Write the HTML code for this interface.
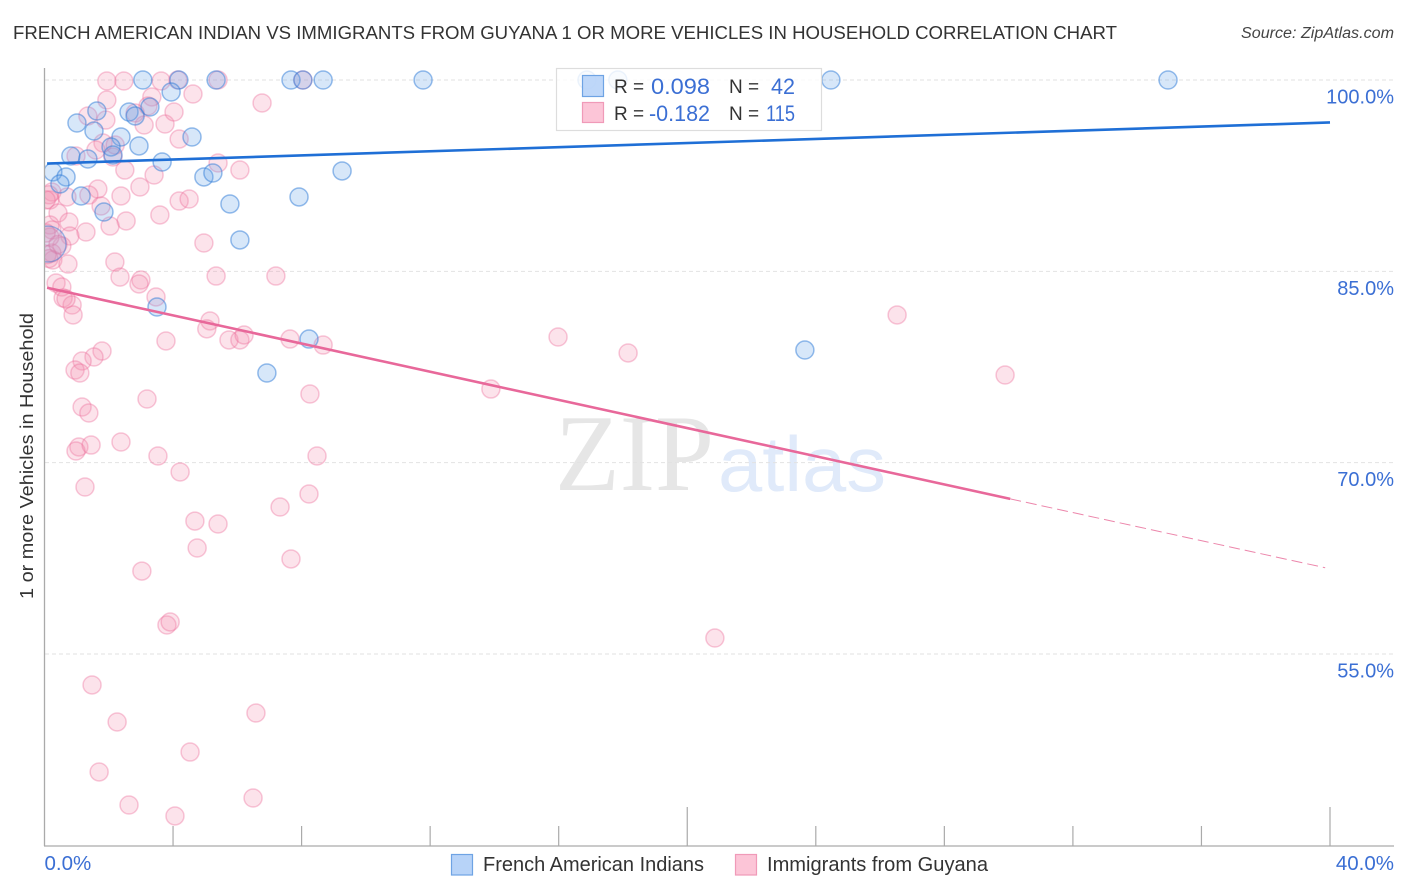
<!DOCTYPE html>
<html lang="en">
<head>
<meta charset="utf-8">
<title>French American Indian vs Immigrants from Guyana correlation chart</title>
<style>
html,body{margin:0;padding:0;background:#fff;width:1406px;height:892px;overflow:hidden}
svg{display:block}
text{font-family:"Liberation Sans",sans-serif}
</style>
</head>
<body>
<svg id="chart" width="1406" height="892" viewBox="0 0 1406 892" xmlns="http://www.w3.org/2000/svg">
  <defs>
    <clipPath id="plot-clip"><rect x="45" y="60" width="1350" height="786"/></clipPath>
  </defs>
  <text x="13" y="39" font-size="18.5" fill="#333" textLength="1104" lengthAdjust="spacingAndGlyphs">FRENCH AMERICAN INDIAN VS IMMIGRANTS FROM GUYANA 1 OR MORE VEHICLES IN HOUSEHOLD CORRELATION CHART</text>
  <text x="1241" y="38" font-size="15.5" font-style="italic" fill="#444" textLength="153" lengthAdjust="spacingAndGlyphs">Source: ZipAtlas.com</text>

  <g id="watermark">
    <text x="555" y="490" font-size="109" fill="#e6e6e6" style="font-family:'Liberation Serif',serif" textLength="159" lengthAdjust="spacingAndGlyphs">ZIP</text>
    <text x="718" y="491" font-size="78" fill="#e0eafa" textLength="168" lengthAdjust="spacingAndGlyphs">atlas</text>
  </g>

  <g id="grid"></g>
  <g id="y-labels"></g>

  <g id="points" clip-path="url(#plot-clip)"></g>
  <g id="trends"></g>

  <g id="axes">
    <line x1="44.5" y1="68" x2="44.5" y2="846" stroke="#aaa" stroke-width="1.3"/>
    <line x1="44" y1="846" x2="1394" y2="846" stroke="#aaa" stroke-width="1.3"/>
  </g>
  <g id="x-ticks"></g>
  <g id="x-labels"></g>

  <text transform="translate(33,456) rotate(-90)" font-size="18.5" fill="#333" text-anchor="middle" textLength="286" lengthAdjust="spacingAndGlyphs">1 or more Vehicles in Household</text>

  <g id="stats-legend">
    <rect x="556.5" y="68.5" width="265" height="62" fill="#fff" fill-opacity="0.82" stroke="#ddd" stroke-width="1.2"/>
    <rect x="582.5" y="75.5" width="21" height="21" fill="#b7d3f8" fill-opacity="0.9" stroke="#6ea3e4" stroke-width="1.2"/>
    <rect x="582.5" y="102.5" width="21" height="20" fill="#fcc5d7" stroke="#f09ab8" stroke-width="1.2"/>
    <text x="614" y="93" font-size="19" fill="#333">R =</text>
    <text x="651" y="94" font-size="22" fill="#3b6fd4" textLength="59" lengthAdjust="spacingAndGlyphs">0.098</text>
    <text x="729" y="93" font-size="19" fill="#333">N =</text>
    <text x="771" y="94" font-size="22" fill="#3b6fd4" textLength="24" lengthAdjust="spacingAndGlyphs">42</text>
    <text x="614" y="120" font-size="19" fill="#333">R =</text>
    <text x="649" y="121" font-size="22" fill="#3b6fd4" textLength="61" lengthAdjust="spacingAndGlyphs">-0.182</text>
    <text x="729" y="120" font-size="19" fill="#333">N =</text>
    <text x="766" y="121" font-size="22" fill="#3b6fd4" textLength="29" lengthAdjust="spacingAndGlyphs">115</text>
  </g>

  <g id="bottom-legend">
    <rect x="451.5" y="854.5" width="21" height="20.5" fill="#b7d3f8" stroke="#6ea3e4" stroke-width="1.2"/>
    <text x="483" y="871" font-size="20" fill="#333" textLength="221" lengthAdjust="spacingAndGlyphs">French American Indians</text>
    <rect x="735.5" y="854.5" width="21" height="20.5" fill="#fcc5d7" stroke="#f09ab8" stroke-width="1.2"/>
    <text x="767" y="871" font-size="20" fill="#333" textLength="221" lengthAdjust="spacingAndGlyphs">Immigrants from Guyana</text>
  </g>
</svg>
<script>
const yTickValues = [100, 85, 70, 55];
const yTickLabels = ['100.0%', '85.0%', '70.0%', '55.0%'];
const xTickValues = [4, 8, 12, 16, 20, 24, 28, 32, 36, 40];
const xTickMajor = [20, 40];
const xEndValues = [0, 40];
const xEndLabels = ['0.0%', '40.0%'];

const blueX = [3.06,4.18,5.34,7.67,8.04,8.67,11.78,16.88,17.84,24.47,34.96,3.94,3.28,2.63,2.82,1.63,1.01,1.54,2.38,2.94,4.59,2.07,2.13,0.82,1.35,3.66,0.26,0.67,0.48,4.96,5.24,9.26,1.14,1.85,5.77,7.92,6.08,3.50,8.23,23.66,6.92];
const blueY = [100,100,100,100,100,100,100,100,100,100,100,99.06,97.88,97.49,97.18,97.57,96.63,96.00,95.53,94.83,95.53,94.75,94.12,94.04,93.81,93.57,92.79,92.40,91.85,92.40,92.71,92.87,90.91,89.65,90.28,90.83,87.46,82.20,79.69,78.83,77.03];
const blueClusterX = [0.11];
const blueClusterY = [87.14];

const pinkX = [1.94,2.47,3.63,4.15,5.40,8.04,1.94,3.34,4.62,6.77,3.22,1.35,1.91,2.82,3.10,3.75,4.03,4.19,1.82,1.60,0.98,2.13,5.40,6.08,2.50,3.41,2.97,1.66,1.38,0.70,0.23,2.38,0.17,0.42,1.76,3.59,4.19,4.50,0.76,2.54,2.04,1.29,0.79,0.17,4.96,0.54,0.23,0.26,0.73,2.19,2.35,3.00,2.94,5.34,7.20,0.36,0.54,0.58,3.47,0.86,0.89,0.23,0.17,0.67,5.15,5.05,5.74,6.08,6.21,7.64,8.67,3.78,1.79,1.54,1.17,0.95,1.10,1.17,1.38,3.19,8.26,13.89,15.98,18.16,26.53,29.89,1.07,0.98,1.45,2.38,3.53,4.22,8.48,1.26,8.23,4.68,5.40,7.33,4.75,7.67,3.03,3.81,3.91,20.86,1.48,2.26,6.58,4.53,1.70,2.63,4.06,6.49,0.14,0.05,0.05,0.08,0.14,0.42,2.20];
const pinkY = [99.92,99.92,99.92,100,100,100,98.43,98.67,98.90,98.20,97.96,97.18,96.86,97.41,96.47,96.55,97.49,95.37,95.06,94.51,94.04,93.96,93.49,92.94,92.94,92.55,91.61,91.45,90.98,90.83,91.22,90.91,90.59,89.57,90.12,89.42,90.51,90.67,88.87,88.95,88.55,88.08,87.77,88.63,87.22,86.99,88.24,85.89,85.57,85.73,84.55,84.32,84.01,84.63,84.63,84.08,83.77,82.91,82.99,82.36,81.58,86.44,87.69,82.83,81.11,80.49,79.62,79.62,80.01,79.69,79.22,79.54,78.75,78.28,77.97,77.26,77.03,74.36,73.89,74.99,75.38,75.77,79.85,78.60,81.58,76.87,71.23,70.91,71.38,71.62,70.52,69.27,70.52,68.09,67.54,65.42,65.19,66.52,63.31,62.45,61.50,57.27,57.51,56.25,52.57,49.67,50.37,47.31,45.75,43.16,42.30,43.71,91.0,90.6,88.0,86.3,86.0,87.1,94.9];

const blueTrendX = [0.08, 40];
const blueTrendY = [93.45, 96.67];
const pinkSolidX = [0.08, 30.05];
const pinkSolidY = [83.71, 67.16];
const pinkDashX = [30.05, 39.85];
const pinkDashY = [67.16, 61.76];

function xScale(v) { return 44.5 + v * 32.1375; }
function yScale(v) { return 80 + (100 - v) * 12.755; }

const NS = 'http://www.w3.org/2000/svg';
function make(tag, parent, attrs) {
  const el = document.createElementNS(NS, tag);
  Object.keys(attrs).forEach(function (k) { el.setAttribute(k, attrs[k]); });
  parent.appendChild(el);
  return el;
}

const grid = document.getElementById('grid');
const yLabels = document.getElementById('y-labels');
yTickValues.forEach(function (v, i) {
  const line = make('line', grid, { x1: 45, x2: 1394, y1: yScale(v), y2: yScale(v), stroke: '#e2e2e2', 'stroke-width': 1, 'stroke-dasharray': '4 3' });
  
  
  const t = make('text', yLabels, { x: 1394, y: yScale(v) + 23.5, 'font-size': 20, fill: '#3b6fd4', 'text-anchor': 'end' });
  t.textContent = yTickLabels[i];
  
  
});

const xTicks = document.getElementById('x-ticks');
xTickValues.forEach(function (v) {
  const major = xTickMajor.indexOf(v) !== -1;
  const tick = make('line', xTicks, { x1: xScale(v), x2: xScale(v), y1: major ? 807 : 826, y2: 846, stroke: '#aaa', 'stroke-width': 1.2 });
  
  
});

const xLabels = document.getElementById('x-labels');
xEndValues.forEach(function (v, i) {
  const t = make('text', xLabels, { x: i === 0 ? xScale(v) : 1394, y: 870, 'font-size': 20.5, fill: '#3b6fd4', 'text-anchor': i === 0 ? 'start' : 'end' });
  t.textContent = xEndLabels[i];
  
  
});

const points = document.getElementById('points');
pinkX.forEach(function (v, i) {
  const c = make('circle', points, { cx: xScale(v), cy: yScale(pinkY[i]), r: 9, fill: '#f48fb1', 'fill-opacity': 0.25, stroke: '#ec6f9b', 'stroke-opacity': 0.38, 'stroke-width': 1.5 });
  
  
});
blueX.forEach(function (v, i) {
  const c = make('circle', points, { cx: xScale(v), cy: yScale(blueY[i]), r: 9, fill: '#6ba5ea', 'fill-opacity': 0.27, stroke: '#2f7bd8', 'stroke-opacity': 0.5, 'stroke-width': 1.5 });
  
  
});
blueClusterX.forEach(function (v, i) {
  const c = make('circle', points, { cx: xScale(v), cy: yScale(blueClusterY[i]), r: 18, fill: '#6ba5ea', 'fill-opacity': 0.18, stroke: '#2f7bd8', 'stroke-opacity': 0.45, 'stroke-width': 1.4 });
  
  
});

const trends = document.getElementById('trends');
const blueTrend = make('line', trends, { x1: xScale(blueTrendX[0]), y1: yScale(blueTrendY[0]), x2: xScale(blueTrendX[1]), y2: yScale(blueTrendY[1]), stroke: '#1f6fd6', 'stroke-width': 2.6 });


const pinkTrend = make('line', trends, { x1: xScale(pinkSolidX[0]), y1: yScale(pinkSolidY[0]), x2: xScale(pinkSolidX[1]), y2: yScale(pinkSolidY[1]), stroke: '#e8689a', 'stroke-width': 2.6 });


const pinkDash = make('line', trends, { x1: xScale(pinkDashX[0]), y1: yScale(pinkDashY[0]), x2: xScale(pinkDashX[1]), y2: yScale(pinkDashY[1]), stroke: '#ec86ab', 'stroke-width': 1, 'stroke-dasharray': '11 5' });


</script>
</body>
</html>
